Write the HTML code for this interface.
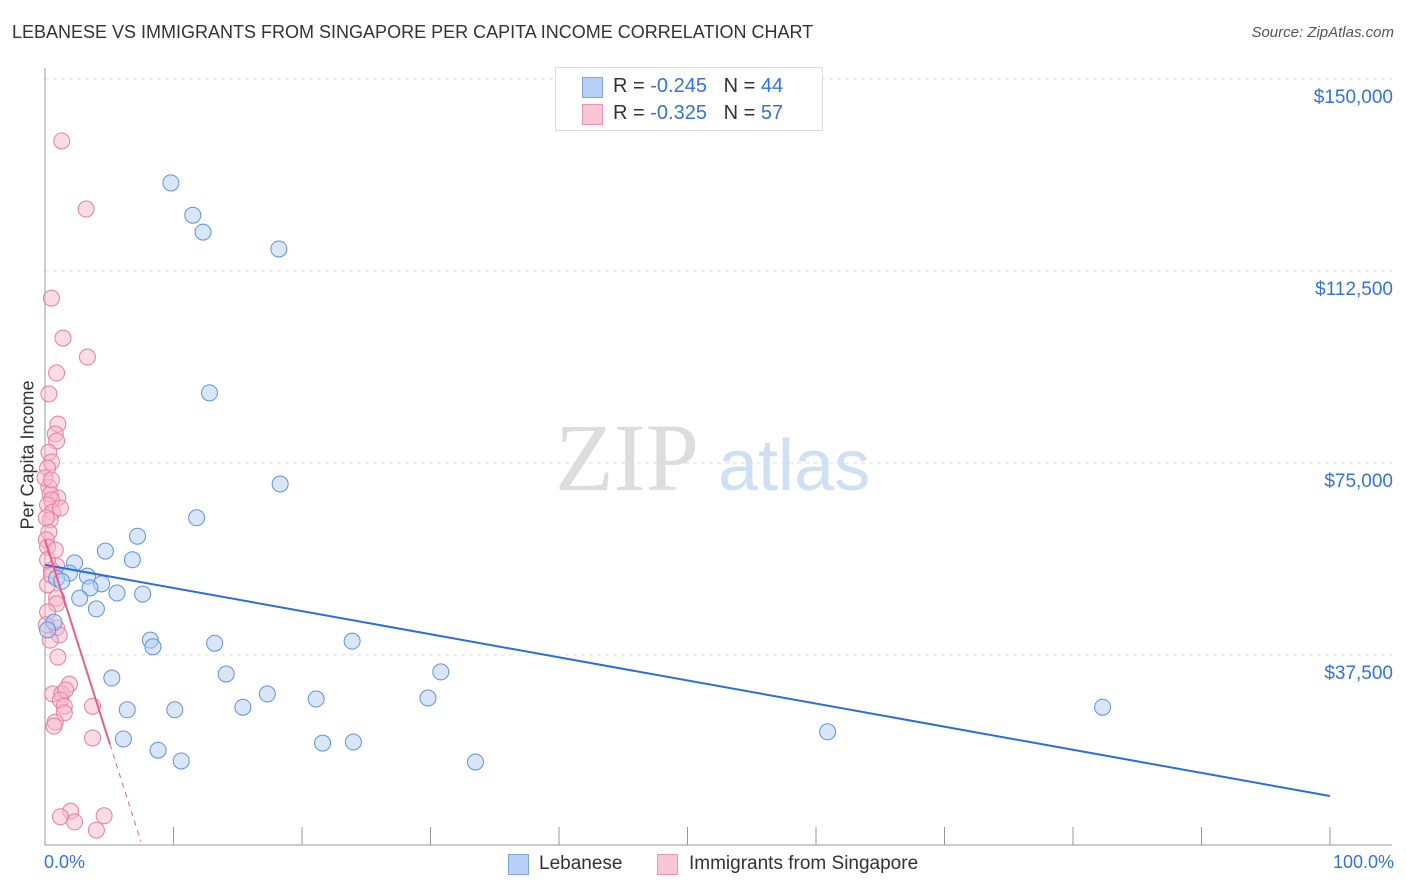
<!DOCTYPE html>
<html><head><meta charset="utf-8"><style>
body{margin:0;background:#fff;font-family:"Liberation Sans",sans-serif}
#w{position:relative;width:1406px;height:892px;overflow:hidden}
.t{position:absolute;white-space:nowrap}
</style></head><body>
<div id="w">
<div class="t" style="left:12px;top:22px;font-size:18px;color:#333">LEBANESE VS IMMIGRANTS FROM SINGAPORE PER CAPITA INCOME CORRELATION CHART</div>
<div class="t" style="right:12px;top:24px;font-size:15px;color:#555;font-style:italic">Source: ZipAtlas.com</div>
<div class="t" style="top:455px;font-size:18px;color:#333;transform:translate(-50%,-50%) rotate(-90deg);transform-origin:center;left:28px">Per Capita Income</div>
<svg id="s" width="1406" height="892" style="position:absolute;left:0;top:0"></svg>
<div style="position:absolute;left:555px;top:67px;width:266px;height:62px;border:1px solid #ddd;background:#fff">
 <div style="position:absolute;left:26px;top:9px;width:19px;height:19px;background:#b8d0f3;border:1px solid #7fa6e0"></div>
 <div class="t" style="left:57px;top:7px;font-size:20px;color:#333">R = <span style="color:#3573d8">-0.245</span>&nbsp;&nbsp;&nbsp;N = <span style="color:#3573d8">44</span></div>
 <div style="position:absolute;left:26px;top:36px;width:19px;height:19px;background:#f8c6d5;border:1px solid #eb96b0"></div>
 <div class="t" style="left:57px;top:34px;font-size:20px;color:#333">R = <span style="color:#3573d8">-0.325</span>&nbsp;&nbsp;&nbsp;N = <span style="color:#3573d8">57</span></div>
</div>
<div class="t" style="left:44px;top:852px;font-size:18px;color:#3573d8">0.0%</div>
<div class="t" style="right:12px;top:852px;font-size:18px;color:#3573d8">100.0%</div>
<div style="position:absolute;left:508px;top:854px;width:19px;height:19px;background:#b8d0f3;border:1px solid #7fa6e0"></div>
<div class="t" style="left:539px;top:853px;font-size:19px;color:#333">Lebanese</div>
<div style="position:absolute;left:657px;top:854px;width:19px;height:19px;background:#f8c6d5;border:1px solid #eb96b0"></div>
<div class="t" style="left:689px;top:853px;font-size:19px;color:#333">Immigrants from Singapore</div>
</div>
<script>
const yTicks=[37500,75000,112500,150000];
const yTickLabels=["$37,500","$75,000","$112,500","$150,000"];
const blueX=[9.8,11.5,12.3,18.2,12.8,18.3,11.8,7.2,4.7,6.8,2.3,3.3,1.9,0.9,1.3,4.4,3.5,2.7,5.6,7.6,4.0,0.7,0.2,8.2,8.4,13.2,23.9,14.1,30.8,5.2,17.3,21.1,29.8,15.4,6.4,10.1,82.3,6.1,60.9,8.8,21.6,24.0,10.6,33.5];
const blueY=[129.7,123.4,120.1,116.8,88.7,70.9,64.3,60.7,57.8,56.1,55.5,52.9,53.5,52.5,51.9,51.4,50.6,48.6,49.6,49.4,46.5,43.9,42.4,40.4,39.1,39.8,40.2,33.8,34.2,33.0,29.9,28.9,29.1,27.3,26.8,26.8,27.3,21.1,22.5,18.9,20.3,20.5,16.8,16.6];
const pinkX=[1.3,3.2,0.5,1.4,3.3,0.9,0.3,1.0,0.8,0.9,0.3,0.5,0.2,0.3,1.0,0.4,0.5,0.2,0.6,0.4,0.3,0.1,0.2,0.9,0.5,0.2,0.9,0.9,0.9,1.1,1.0,1.9,0.6,1.3,1.6,1.2,1.5,1.5,3.7,0.8,0.7,3.7,2.0,1.2,2.3,4.6,4.0,0.1,0.2,0.5,0.2,0.4,0.1,0.8,1.2,0.0,0.5];
const pinkY=[137.9,124.6,107.2,99.4,95.7,92.6,88.5,82.6,80.7,79.3,77.1,75.2,74.0,70.3,68.2,68.9,67.8,66.8,65.4,63.9,61.5,60.0,58.6,54.9,54.1,51.2,48.6,47.5,42.8,41.4,37.1,31.8,29.9,29.9,30.7,28.7,27.5,26.2,27.5,24.4,23.6,21.3,7.0,5.9,4.9,6.1,3.3,64.3,56.1,53.1,45.9,40.4,43.4,58.0,66.2,72.1,71.7];
const blueTrend=[55.1,9.96];
const pinkTrend=[60.0,-790];
const pinkSolidEnd=5.06, pinkDashEnd=7.45;
const NS="http://www.w3.org/2000/svg",s=document.getElementById('s');
const X=p=>45+p*12.85, Y=v=>847-v/37.5*192;
function el(t,a){const e=document.createElementNS(NS,t);for(const k in a)e.setAttribute(k,a[k]);s.appendChild(e);return e;}
let wm=el('text',{x:555,y:490,'font-size':96,'font-family':'Liberation Serif,serif',fill:'#ddd'});wm.textContent='ZIP';


let wm2=el('text',{x:718,y:490,'font-size':72,'font-family':'Liberation Sans,sans-serif',fill:'#cfe0f5'});wm2.textContent='atlas';


yTicks.forEach((v,i)=>{
 const g=el('line',{x1:45,x2:1392,y1:Y(v/1000),y2:Y(v/1000),stroke:'#ddd','stroke-dasharray':'4,4'});
 
 
 const t=el('text',{x:1393,y:Y(v/1000)+24,'text-anchor':'end','font-size':19,fill:'#3573d8','font-family':'Liberation Sans,sans-serif'});
 t.textContent=yTickLabels[i];
 
 
});
let ax=el('line',{x1:45,x2:45,y1:68,y2:845,stroke:'#999'});


let bx=el('line',{x1:45,x2:1392,y1:845,y2:845,stroke:'#999'});


for(let i=0;i<=10;i++){const k=el('line',{x1:X(i*10),x2:X(i*10),y1:827,y2:845,stroke:'#999'});
 
 }
function dots(xs,ys,f,st,name){xs.forEach((x,i)=>{const c=el('circle',{cx:X(x),cy:Y(ys[i]),r:8,fill:f,'fill-opacity':0.5,stroke:st,'stroke-width':1});
 
 });}
dots(pinkX,pinkY,'#f7b8cb','#e87fa0','point-singapore');
dots(blueX,blueY,'#b3cdf1','#5f93dc','point-lebanese');
const bl=el('line',{x1:X(0),y1:Y(blueTrend[0]),x2:X(100),y2:Y(blueTrend[1]),stroke:'#2a6fd6','stroke-width':2});


const pv=p=>pinkTrend[0]+pinkTrend[1]*p/100;
const pl=el('line',{x1:X(0),y1:Y(pv(0)),x2:X(pinkSolidEnd),y2:Y(pv(pinkSolidEnd)),stroke:'#e5608a','stroke-width':2});


const pd=el('line',{x1:X(pinkSolidEnd),y1:Y(pv(pinkSolidEnd)),x2:X(pinkDashEnd),y2:Y(pv(pinkDashEnd)),stroke:'#e5608a','stroke-width':1,'stroke-dasharray':'5,5'});


</script>
</body></html>
